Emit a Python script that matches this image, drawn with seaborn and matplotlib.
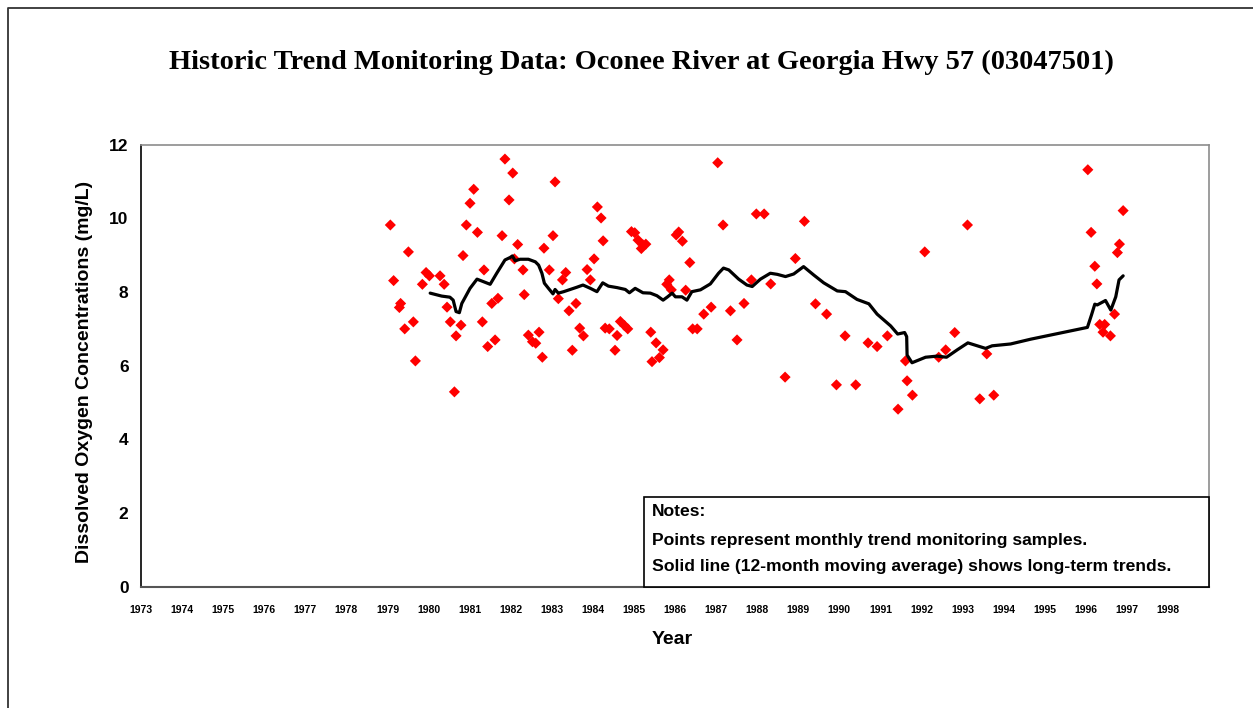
import matplotlib
matplotlib.use("Agg")
import matplotlib.pyplot as plt
from matplotlib.patches import Rectangle
from matplotlib.lines import Line2D
import seaborn as sns
import pandas as pd

# Monthly trend monitoring samples (decimal year, dissolved oxygen mg/L)
sample_dates = [
    1979.07, 1979.15, 1979.29, 1979.32, 1979.42, 1979.51, 1979.63, 1979.68, 1979.85, 1979.94,
    1980.02, 1980.28, 1980.38, 1980.45, 1980.53, 1980.63, 1980.67, 1980.79, 1980.84, 1980.92,
    1981.01, 1981.10, 1981.19, 1981.31, 1981.35, 1981.44, 1981.54, 1981.62, 1981.69, 1981.79,
    1981.86, 1981.96, 1982.05, 1982.09, 1982.17, 1982.30, 1982.33, 1982.43, 1982.53, 1982.61,
    1982.69, 1982.77, 1982.81, 1982.94, 1983.03, 1983.08, 1983.16, 1983.26, 1983.34, 1983.42,
    1983.50, 1983.59, 1983.68, 1983.77, 1983.86, 1983.94, 1984.03, 1984.11, 1984.20, 1984.25,
    1984.30, 1984.40, 1984.54, 1984.59, 1984.67, 1984.77, 1984.85, 1984.94, 1985.02, 1985.10,
    1985.18, 1985.22, 1985.29, 1985.41, 1985.44, 1985.54, 1985.62, 1985.71, 1985.80, 1985.86,
    1985.91, 1986.03, 1986.09, 1986.18, 1986.26, 1986.36, 1986.43, 1986.54, 1986.70, 1986.88,
    1987.04, 1987.17, 1987.35, 1987.51, 1987.68, 1987.86, 1987.98, 1988.17, 1988.33, 1988.68,
    1988.93, 1989.15, 1989.42, 1989.69, 1989.93, 1990.14, 1990.40, 1990.70, 1990.92, 1991.17,
    1991.43, 1991.61, 1991.65, 1991.78, 1992.08, 1992.42, 1992.59, 1992.81, 1993.12, 1993.42,
    1993.59, 1993.76, 1996.05, 1996.13, 1996.22, 1996.27, 1996.34, 1996.42, 1996.46, 1996.60,
    1996.70, 1996.77, 1996.82, 1996.91,
]
sample_do = [
    9.82, 8.31, 7.58, 7.69, 7.00, 9.09, 7.19, 6.13, 8.21, 8.53,
    8.44, 8.44, 8.21, 7.59, 7.19, 5.29, 6.81, 7.10, 8.99, 9.82,
    10.41, 10.79, 9.62, 7.19, 8.60, 6.52, 7.69, 6.70, 7.83, 9.53,
    11.61, 10.50, 11.23, 8.90, 9.29, 8.60, 7.93, 6.83, 6.65, 6.61,
    6.91, 6.23, 9.19, 8.60, 9.53, 10.99, 7.82, 8.33, 8.53, 7.49,
    6.42, 7.69, 7.02, 6.81, 8.61, 8.33, 8.90, 10.31, 10.01, 9.39,
    7.02, 7.00, 6.42, 6.82, 7.20, 7.09, 7.00, 9.64, 9.61, 9.41,
    9.18, 9.28, 9.30, 6.91, 6.11, 6.62, 6.22, 6.43, 8.21, 8.33,
    8.06, 9.55, 9.63, 9.38, 8.05, 8.80, 7.00, 7.00, 7.40, 7.59,
    11.51, 9.82, 7.49, 6.70, 7.69, 8.33, 10.12, 10.12, 8.22, 5.69,
    8.91, 9.92, 7.68, 7.40, 5.48, 6.81, 5.48, 6.62, 6.52, 6.81,
    4.82, 6.13, 5.59, 5.20, 9.09, 6.23, 6.43, 6.90, 9.82, 5.10,
    6.32, 5.20, 11.32, 9.62, 8.70, 8.22, 7.12, 6.91, 7.12, 6.81,
    7.40, 9.07, 9.30, 10.21,
]

# 12-month moving average (decimal year, mg/L)
trend_dates = [
    1980.04, 1980.32, 1980.52, 1980.60, 1980.67, 1980.75, 1980.81, 1981.01, 1981.18, 1981.34,
    1981.50, 1981.66, 1981.86, 1981.99, 1982.04, 1982.11, 1982.23, 1982.43, 1982.60, 1982.68,
    1982.76, 1982.82, 1982.92, 1983.03, 1983.08, 1983.16, 1983.29, 1983.45, 1983.61, 1983.76,
    1983.94, 1984.10, 1984.24, 1984.38, 1984.59, 1984.79, 1984.89, 1985.03, 1985.22, 1985.40,
    1985.56, 1985.71, 1985.82, 1985.93, 1986.01, 1986.17, 1986.29, 1986.41, 1986.62, 1986.86,
    1987.06, 1987.18, 1987.31, 1987.55, 1987.75, 1987.88, 1988.08, 1988.32, 1988.49, 1988.69,
    1988.89, 1989.13, 1989.38, 1989.62, 1989.77, 1989.95, 1990.15, 1990.43, 1990.72, 1990.92,
    1991.25, 1991.42, 1991.59, 1991.64, 1991.65, 1991.77, 1992.10, 1992.38, 1992.61, 1992.87,
    1993.13, 1993.56, 1993.72, 1994.17, 1994.66, 1996.04, 1996.14, 1996.22, 1996.28, 1996.48,
    1996.61, 1996.73, 1996.81, 1996.91,
]
trend_do = [
    7.97, 7.89, 7.86, 7.78, 7.47, 7.44, 7.69, 8.10, 8.35, 8.28,
    8.21, 8.51, 8.87, 8.94, 8.98, 8.85, 8.89, 8.89, 8.82, 8.73,
    8.51, 8.24, 8.10, 7.95, 8.07, 7.97, 8.01, 8.07, 8.13, 8.19,
    8.10, 8.01, 8.25, 8.16, 8.12, 8.07, 7.98, 8.10, 7.98, 7.97,
    7.90, 7.78, 7.87, 7.97, 7.87, 7.87, 7.78, 8.01, 8.06, 8.22,
    8.51, 8.65, 8.60, 8.35, 8.19, 8.15, 8.35, 8.51, 8.48, 8.42,
    8.49, 8.69, 8.46, 8.25, 8.15, 8.03, 8.01, 7.80, 7.68, 7.40,
    7.08, 6.86, 6.90, 6.79, 6.29, 6.08, 6.23, 6.26, 6.23, 6.43,
    6.62, 6.47, 6.54, 6.59, 6.72, 7.04, 7.38, 7.67, 7.65, 7.77,
    7.51, 7.87, 8.33, 8.44,
]

year_ticks = list(range(1973, 1999))
do_ticks = [0, 2, 4, 6, 8, 10, 12]

title_text = "Historic Trend Monitoring Data: Oconee River at Georgia Hwy 57 (03047501)"
notes_lines = [
    "Notes:",
    "Points represent monthly trend monitoring samples.",
    "Solid line (12-month moving average) shows long-term trends.",
]

samples = pd.DataFrame({"year": sample_dates, "do": sample_do})
trend = pd.DataFrame({"year": trend_dates, "do": trend_do})

sns.set_theme(style="white")
plt.rcParams["font.family"] = ["Liberation Sans", "DejaVu Sans"]
plt.rcParams["text.color"] = "black"
plt.rcParams["axes.labelcolor"] = "black"
plt.rcParams["xtick.color"] = "black"
plt.rcParams["ytick.color"] = "black"

W, H = 1253, 708
fig = plt.figure(figsize=(W / 100, H / 100), dpi=100)
fig.patch.set_facecolor("white")

left, right, top, bottom = 141, 1209, 144.7, 586.7
ax = fig.add_axes([left / W, 1 - bottom / H, (right - left) / W, (bottom - top) / H])

sns.lineplot(data=trend, x="year", y="do", ax=ax, color="black", linewidth=2.3,
             sort=False, estimator=None, zorder=3)
sns.scatterplot(data=samples, x="year", y="do", ax=ax, marker="D", s=32,
                color="#ff0000", edgecolor="none", linewidth=0, zorder=2)

ax.set_xlim(1973, 1999)
ax.set_ylim(0, 12)
ax.set_xticks(year_ticks)
ax.set_xticklabels([str(y) for y in year_ticks], fontsize=7.5, fontweight="bold",
                   color="black")
ax.set_yticks(do_ticks)
ax.set_yticklabels([str(v) for v in do_ticks], fontsize=12.5, fontweight="bold",
                   color="black")

ax.tick_params(axis="y", direction="inout", length=6, width=1, color="black", pad=6)
ax.tick_params(axis="x", direction="inout", length=6, width=1, color="#444444", pad=10)

ax.spines["left"].set_color("black")
ax.spines["left"].set_linewidth(1.2)
ax.spines["bottom"].set_color("#555555")
ax.spines["bottom"].set_linewidth(1.5)
for side in ("top", "right"):
    ax.spines[side].set_color("#8c8c8c")
    ax.spines[side].set_linewidth(1.2)

ax.set_xlabel("Year", fontsize=14, fontweight="bold", color="black")
ax.set_ylabel("Dissolved Oxygen Concentrations (mg/L)", fontsize=14, fontweight="bold",
              color="black")
ax.xaxis.label.set_va("center")
ax.xaxis.set_label_coords((672 - left) / (right - left), -(640 - bottom) / (bottom - top))
ax.yaxis.label.set_va("center")
ax.yaxis.set_label_coords(-(left - 85) / (right - left), (bottom - 372) / (bottom - top))

# Notes box in the lower right corner of the plot area
bx0, bx1, by0 = 644, 1209, 497
ax.add_patch(Rectangle(((bx0 - left) / (right - left), 0),
                       (bx1 - bx0) / (right - left), (bottom - by0) / (bottom - top),
                       transform=ax.transAxes, facecolor="white", edgecolor="black",
                       linewidth=1.2, zorder=4, clip_on=False))
for line, ypix in zip(notes_lines, [512, 540, 566]):
    ax.text((652 - left) / (right - left), (bottom - ypix) / (bottom - top), line,
            transform=ax.transAxes, ha="left", va="center", fontsize=12.6,
            fontweight="bold", color="black", zorder=5)

fig.text(641.5 / W, 1 - 69 / H, title_text, ha="center", va="baseline",
         fontsize=20.4, fontweight="bold", color="black",
         family=["Liberation Serif", "DejaVu Serif"])

# Chart frame along the top and left edges
fig.add_artist(Line2D([7.5 / W, 7.5 / W, 1.0], [0.0, 1 - 8 / H, 1 - 8 / H],
                      transform=fig.transFigure, color="#333333", linewidth=1.3))

fig.savefig("out.png", dpi=100, facecolor="white")
